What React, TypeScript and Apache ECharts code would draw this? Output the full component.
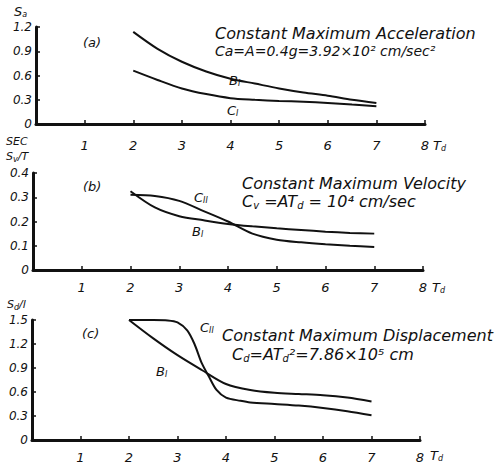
import React, { useEffect, useRef } from "react";
import * as echarts from "echarts";

// Panel (a): constant maximum acceleration
const xsA = [2, 2.5, 3, 3.5, 4, 4.5, 5, 5.5, 6, 6.5, 7];
const aB1 = [1.14, 0.93, 0.77, 0.65, 0.56, 0.5, 0.44, 0.39, 0.35, 0.3, 0.26];
const aC1 = [0.66, 0.545, 0.44, 0.37, 0.32, 0.3, 0.285, 0.275, 0.26, 0.24, 0.22];

// Panel (b): constant maximum velocity
const xsB = [2, 2.5, 3, 3.5, 4, 4.5, 5, 5.5, 6, 6.5, 7];
const bB1 = [0.325, 0.258, 0.222, 0.205, 0.19, 0.18, 0.172, 0.165, 0.158, 0.153, 0.15];
const bC2 = [0.31, 0.305, 0.285, 0.243, 0.2, 0.15, 0.125, 0.114, 0.106, 0.1, 0.095];

// Panel (c): constant maximum displacement
const xsCB = [2, 2.5, 3, 3.5, 4, 4.5, 5, 5.5, 6, 6.5, 7];
const cB1 = [1.5, 1.27, 1.06, 0.875, 0.7, 0.625, 0.59, 0.575, 0.56, 0.53, 0.48];
const xsCC = [2, 2.5, 2.8, 3.0, 3.2, 3.35, 3.5, 3.65, 3.8, 4.0, 4.3, 4.5, 5, 5.5, 6, 6.5, 7];
const cC2 = [1.5, 1.5, 1.495, 1.47, 1.37, 1.2, 0.96, 0.79, 0.63, 0.53, 0.49, 0.47, 0.45, 0.43, 0.4, 0.36, 0.31];

const xTicks = [1, 2, 3, 4, 5, 6, 7, 8];

const FONT = "DejaVu Sans";
const INK = "#111";

const pairs = (xs: number[], ys: number[]) => xs.map((x, i) => [x, ys[i]]);

const rich = {
  m: { fontFamily: FONT, fontStyle: "italic", fontSize: 13, color: INK },
  n: { fontFamily: FONT, fontStyle: "italic", fontSize: 11, color: INK },
  s: { fontFamily: FONT, fontStyle: "italic", fontSize: 8, color: INK, padding: [7, 0, 0, 0] },
  t: { fontFamily: FONT, fontStyle: "italic", fontSize: 16, color: INK },
  ts: { fontFamily: FONT, fontStyle: "italic", fontSize: 10, color: INK, padding: [8, 0, 0, 0] },
};

const txt = (x: number, y: number, text: string, size = 13, align = "left") => ({
  type: "text",
  x,
  y,
  style: {
    text,
    rich,
    fontFamily: FONT,
    fontStyle: "italic",
    fontSize: size,
    fill: INK,
    align,
    verticalAlign: "middle",
  },
});

const grids = [
  { left: 36, top: 27, width: 389, height: 97 },
  { left: 33, top: 173, width: 390, height: 97 },
  { left: 32, top: 320, width: 388, height: 120 },
];

const yRanges = [
  { max: 1.2, interval: 0.3 },
  { max: 0.4, interval: 0.1 },
  { max: 1.5, interval: 0.3 },
];

const axisLine = { lineStyle: { color: INK, width: 3 } };

const option: any = {
  animation: false,
  backgroundColor: "#fff",
  grid: grids.map((g) => ({ ...g, containLabel: false })),
  xAxis: grids.map((_, i) => ({
    type: "value",
    gridIndex: i,
    min: 0,
    max: 8,
    interval: 1,
    splitLine: { show: false },
    axisLine,
    axisTick: { inside: true, length: 4, lineStyle: { color: INK, width: 1.5 } },
    axisLabel: {
      margin: i === 0 ? 15 : 11,
      fontFamily: FONT,
      fontStyle: "italic",
      fontSize: 13,
      color: INK,
      formatter: (v: number) => (xTicks.includes(v) ? String(v) : ""),
    },
  })),
  yAxis: grids.map((_, i) => ({
    type: "value",
    gridIndex: i,
    min: 0,
    max: yRanges[i].max,
    interval: yRanges[i].interval,
    splitLine: { show: false },
    axisLine,
    axisTick: { inside: true, length: 4, lineStyle: { color: INK, width: 1.5 } },
    axisLabel: {
      margin: 4,
      fontFamily: FONT,
      fontStyle: "italic",
      fontSize: 12,
      color: INK,
      formatter: (v: number) => (v === 0 ? "0" : v.toFixed(1)),
    },
  })),
  series: [
    [0, xsA, aB1],
    [0, xsA, aC1],
    [1, xsB, bB1],
    [1, xsB, bC2],
    [2, xsCB, cB1],
    [2, xsCC, cC2],
  ].map(([gi, xs, ys]: any) => ({
    type: "line",
    xAxisIndex: gi,
    yAxisIndex: gi,
    data: pairs(xs, ys),
    showSymbol: false,
    smooth: 0.3,
    clip: false,
    lineStyle: { color: INK, width: 2 },
  })),
  graphic: [
    // y-axis names
    txt(14, 11, "{m|S}{s|a}"),
    txt(6, 141, "SEC", 11),
    txt(6, 156, "{n|S}{s|v}{n|/T}"),
    txt(7, 304, "{n|S}{s|d}{n|/l}"),
    // x-axis names
    txt(433, 145, "{m|T}{s|d}"),
    txt(432, 287, "{m|T}{s|d}"),
    txt(430, 455, "{m|T}{s|d}"),
    // panel labels
    txt(83, 42, "(a)", 13),
    txt(83, 186, "(b)", 13),
    txt(82, 333, "(c)", 13),
    // curve labels
    txt(229, 80, "{m|B}{s|I}"),
    txt(227, 110, "{m|C}{s|I}"),
    txt(194, 197, "{m|C}{s|II}"),
    txt(192, 231, "{m|B}{s|I}"),
    txt(200, 327, "{m|C}{s|II}"),
    txt(156, 371, "{m|B}{s|I}"),
    // titles
    txt(215, 33, "Constant Maximum Acceleration", 16),
    txt(215, 51, "Ca=A=0.4g=3.92×10² cm/sec²", 14),
    txt(242, 183, "Constant Maximum Velocity", 16),
    txt(242, 201, "{t|C}{ts|v}{t| =AT}{ts|d}{t| = 10⁴ cm/sec}"),
    txt(222, 335, "Constant Maximum Displacement", 16),
    txt(232, 354, "{t|C}{ts|d}{t|=AT}{ts|d}{t|²=7.86×10⁵ cm}"),
  ],
};

export default function App() {
  const ref = useRef<HTMLDivElement>(null);
  useEffect(() => {
    document.body.style.margin = "0";
    const chart = echarts.init(ref.current as HTMLDivElement, null, { renderer: "svg" });
    chart.setOption(option);
    return () => chart.dispose();
  }, []);
  return <div ref={ref} style={{ width: 497, height: 468 }} />;
}
